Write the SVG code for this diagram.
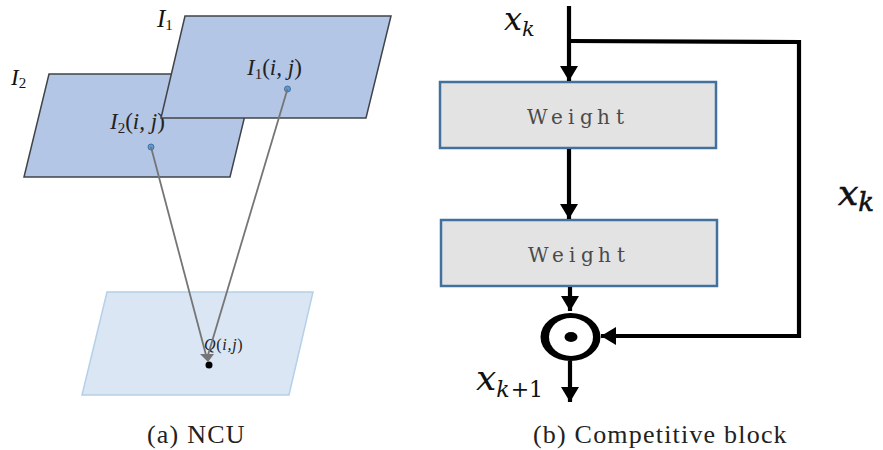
<svg xmlns="http://www.w3.org/2000/svg" width="883" height="450" viewBox="0 0 883 450">
<style>
.p{fill:#b3c6e5;stroke:#404448;stroke-width:1.5}
.m{font-family:"Liberation Serif",serif;font-style:italic;fill:#222}
.s{font-family:"Liberation Serif",serif;font-style:italic;fill:#111}
.v{font-family:"DejaVu Serif",serif;font-style:italic;fill:#111}
.u{font-style:normal}
.box{fill:#e3e3e3;stroke:#41719c;stroke-width:2.5}
.w{font-family:"DejaVu Serif",serif;font-size:20px;fill:#4a4a4a}
.c{font-family:"Liberation Serif",serif;font-size:26px;fill:#222;letter-spacing:1.2px}
.g{fill:none;stroke:#757575;stroke-width:1.8}
.k{fill:none;stroke:#000;stroke-width:4.2}
.d{fill:#5b9bd5;stroke:#41719c;stroke-width:1}
</style>
<defs>
<marker id="ah" markerUnits="userSpaceOnUse" markerWidth="16" markerHeight="20" refX="15" refY="10" orient="auto"><path d="M0 1L15 10L0 19Z" fill="#000"/></marker>
</defs>
<rect width="883" height="450" fill="#fff"/>
<g id="plane-i2">
<polygon class="p" points="49,74 255,74 230,177 24,177"/>
<text class="s" x="11" y="85" font-size="23">I<tspan class="u" font-size="15" dy="3">2</tspan></text>
</g>
<g id="label-i2">
<text class="m" x="110" y="129" font-size="23">I<tspan class="u" font-size="15" dy="4">2</tspan><tspan class="u" dy="-4">(</tspan>i, j<tspan class="u">)</tspan></text>
<circle class="d" cx="151" cy="147" r="3"/>
</g>
<g id="plane-i1">
<polygon class="p" points="185,16 391,16 366,118 161,118"/>
<text class="s" x="157" y="27" font-size="25">I<tspan class="u" font-size="15" dy="3">1</tspan></text>
<text class="m" x="247" y="75" font-size="23">I<tspan class="u" font-size="15" dy="4">1</tspan><tspan class="u" dy="-4">(</tspan>i, j<tspan class="u">)</tspan></text>
<circle class="d" cx="287.500" cy="89" r="3"/>
</g>
<g id="plane-q">
<polygon points="107,292 313,292 289,395 82,395" fill="#dae6f3" stroke="#b5d0e8" stroke-width="1.500"/>
<text class="m" x="204" y="350" font-size="16" letter-spacing="0.7">Q<tspan class="u">(</tspan>i,j<tspan class="u">)</tspan></text>
<circle cx="209" cy="365" r="3.500" fill="#000"/>
</g>
<g id="connectors-a">
<path class="g" d="M151 147L206 355"/>
<path class="g" d="M287.500 89L208 355"/>
<polygon points="200,354 214,354 208,362" fill="#757575"/>
</g>
<g id="weight-1">
<rect class="box" x="440" y="82" width="276" height="66"/>
<text class="w" x="527 551 568 580 597 616" y="124">Weight</text>
</g>
<g id="weight-2">
<rect class="box" x="441" y="220" width="276" height="66"/>
<text class="w" x="528 552 569 581 598 617" y="262">Weight</text>
</g>
<g id="odot">
<ellipse cx="570.500" cy="337" rx="30" ry="24" fill="#000"/>
<ellipse cx="571" cy="337" rx="22" ry="19" fill="#fff"/>
<ellipse cx="571" cy="337" rx="6.500" ry="5" fill="#000"/>
</g>
<g id="connectors-b">
<path class="k" d="M569 6V81" marker-end="url(#ah)"/>
<path class="k" d="M569 149V219" marker-end="url(#ah)"/>
<path class="k" d="M570 287V311" marker-end="url(#ah)"/>
<path class="k" d="M570 361V402" marker-end="url(#ah)"/>
<path class="k" d="M569 41L799 42V336H601" marker-end="url(#ah)"/>
</g>
<g id="labels">
<text class="v" x="504" y="30" font-size="32">x<tspan font-size="21" dy="6">k</tspan></text>
<text class="v" x="838" y="205" font-size="36" stroke="#111" stroke-width="0.6">x<tspan font-size="26" dy="6">k</tspan></text>
<text class="v" x="476" y="390" font-size="36">x<tspan font-size="22" dy="7">k</tspan><tspan class="u" font-size="22" dx="1">+1</tspan></text>
<text class="c" x="147" y="443">(a) NCU</text>
<text class="c" x="533" y="443">(b) Competitive block</text>
</g>
</svg>
